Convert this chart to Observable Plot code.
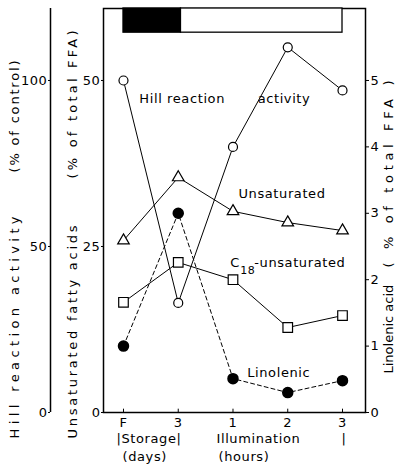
<!DOCTYPE html>
<html>
<head>
<meta charset="utf-8">
<script src="https://cdn.jsdelivr.net/npm/d3@7"></script>
<script src="https://cdn.jsdelivr.net/npm/@observablehq/plot@0.6"></script>
<style>
  html, body { margin: 0; padding: 0; background: white; }
</style>
</head>
<body>
<div id="chart"></div>
<script>
// ---- data ----
const categories = ["F", "3", "1", "2", "3"];
const xIndex = [0, 1, 2, 3, 4];
const hillActivity = [100, 33, 80, 110, 97];        // % of control
const unsaturated = [25.9, 35.4, 30.3, 28.6, 27.4];  // % of total FFA
const c18Unsaturated = [16.6, 22.6, 20.0, 12.8, 14.6];
const linolenic = [1.0, 3.0, 0.51, 0.30, 0.48];      // % of total FFA
const hillTicks = [0, 50, 100];
const unsatTicks = [0, 25, 50];
const linTicks = [0, 1, 2, 3, 4, 5];
const phases = ["Storage", "Illumination"];
const phaseStart = [0, 1.05];
const phaseEnd = [1.05, 4];

// common y unit = unsaturated %; Hill = 2x, linolenic = 1/10
const rows = xIndex.map(i => ({
  i,
  hill: hillActivity[i] / 2,
  unsat: unsaturated[i],
  c18: c18Unsaturated[i],
  lin: linolenic[i] * 10
}));
const phaseRows = phases.map((p, k) => ({phase: p, start: phaseStart[k], end: phaseEnd[k]}));

const ff = "DejaVu Sans";
const fs = 13;
const midY = 210; // vertical centre of the frame (px)

// rotated axis-title pieces: [text, anchor, dx, bottom y (px), length (px)]
const titleSpecs = [
  ["Hill reaction activity", "left", -89, 438, 222],
  ["(% of control)", "left", -89, 172, 112],
  ["Unsaturated fatty acids", "left", -31, 438, 213],
  ["(% of total FFA)", "left", -31, 178, 148],
  ["Linolenic acid", "right", 23, 373, 83],
  ["( % of total FFA )", "right", 23, 267, 187]
];

const chart = Plot.plot({
  width: 396,
  height: 469,
  marginLeft: 103,
  marginRight: 31,
  marginTop: 8,
  marginBottom: 57,
  style: {fontFamily: ff, fontSize: fs + "px", color: "black", background: "white", letterSpacing: "0.6px"},
  x: {domain: [-0.365, 4.42], axis: null},
  y: {domain: [0, 60.84], axis: null},
  marks: [
    Plot.frame({stroke: "black", strokeWidth: 1.5}),
    // phase bar at top
    Plot.rect(phaseRows, {
      x1: "start", x2: "end", y1: 57.2, y2: 60.84,
      fill: d => d.phase === "Storage" ? "black" : "white",
      stroke: "black", strokeWidth: 1.3
    }),
    // Hill axis (outer left)
    Plot.ruleX([-0.365], {dx: -53, stroke: "black", strokeWidth: 1.5}),
    Plot.axisY(hillTicks.map(v => v / 2), {
      anchor: "left", dx: -53, tickSize: 2, tickPadding: 1,
      tickFormat: d => d * 2, fontSize: fs
    }),
    // Unsaturated axis (frame left)
    Plot.axisY(unsatTicks, {anchor: "left", tickSize: 2, tickPadding: 1, fontSize: fs}),
    // Linolenic axis (right)
    Plot.axisY(linTicks.map(v => v * 10), {
      anchor: "right", tickSize: 3, tickPadding: 2,
      tickFormat: d => d / 10, fontSize: fs
    }),
    // x axis
    Plot.axisX(xIndex, {anchor: "bottom", tickSize: 0, tickPadding: 5, tickFormat: i => categories[i], fontSize: fs}),
    Plot.ruleX(xIndex, {x: d => d, y1: 0, y2: 0.5, stroke: "black"}),

    // series lines
    Plot.line(rows, {x: "i", y: "hill", stroke: "black", strokeWidth: 1}),
    Plot.line(rows, {x: "i", y: "unsat", stroke: "black", strokeWidth: 1}),
    Plot.line(rows, {x: "i", y: "c18", stroke: "black", strokeWidth: 1}),
    Plot.line(rows, {x: "i", y: "lin", stroke: "black", strokeWidth: 1, strokeDasharray: "4,3"}),
    // markers
    Plot.dot(rows, {x: "i", y: "hill", r: 4.5, fill: "white", stroke: "black", strokeWidth: 1.2}),
    Plot.dot(rows, {x: "i", y: "unsat", r: 4.3, symbol: "triangle", fill: "white", stroke: "black", strokeWidth: 1.2}),
    Plot.dot(rows, {x: "i", y: "c18", r: 5.4, symbol: "square", fill: "white", stroke: "black", strokeWidth: 1.2}),
    Plot.dot(rows, {x: "i", y: "lin", r: 5, fill: "black", stroke: "black"}),

    // series labels
    Plot.text(["Hill reaction"], {x: 0.29, y: 47.3, textAnchor: "start", fontSize: fs}),
    Plot.text(["activity"], {x: 2.45, y: 47.3, textAnchor: "start", fontSize: fs}),
    Plot.text(["Unsaturated"], {x: 2.1, y: 33.0, textAnchor: "start", fontSize: fs}),
    Plot.text(["C"], {x: 1.95, y: 22.6, textAnchor: "start", fontSize: fs}),
    Plot.text(["18"], {x: 1.95, y: 22.6, dx: 10, dy: 8, textAnchor: "start", fontSize: 11}),
    Plot.text(["-unsaturated"], {x: 1.95, y: 22.6, dx: 24, textAnchor: "start", fontSize: fs}),
    Plot.text(["Linolenic"], {x: 2.26, y: 6.0, textAnchor: "start", fontSize: fs}),

    // axis titles (rotated, start anchored at the bottom end)
    ...titleSpecs.map(([t, anchor, dx, by]) =>
      Plot.text([t], {frameAnchor: anchor, dx, dy: by - midY, rotate: -90, textAnchor: "start", fontSize: fs})
    ),

    // x-axis group labels
    Plot.text(["|Storage|"], {frameAnchor: "bottom-left", dx: 13, dy: 30, textAnchor: "start", fontSize: fs}),
    Plot.text(["Illumination"], {frameAnchor: "bottom-left", dx: 113, dy: 30, textAnchor: "start", fontSize: fs}),
    Plot.text(["|"], {frameAnchor: "bottom-left", dx: 238, dy: 30, textAnchor: "start", fontSize: fs}),
    Plot.text(["(days)"], {frameAnchor: "bottom-left", dx: 19, dy: 48, textAnchor: "start", fontSize: fs}),
    Plot.text(["(hours)"], {frameAnchor: "bottom-left", dx: 115, dy: 48, textAnchor: "start", fontSize: fs})
  ]
});
document.getElementById("chart").appendChild(chart);

// spread the rotated titles to the letter spacing seen in the original
const allTexts = Array.from(chart.querySelectorAll("text"));
titleSpecs.forEach(([t, anchor, dx, by, len]) => {
  allTexts.filter(el => el.textContent === t).forEach(el => {
    el.style.letterSpacing = "0px";
    const natural = el.getComputedTextLength();
    const n = Math.max(1, t.length - 1);
    const ls = Math.max(0, (len - natural) / n);
    el.style.letterSpacing = ls.toFixed(2) + "px";
  });
});
</script>
</body>
</html>
